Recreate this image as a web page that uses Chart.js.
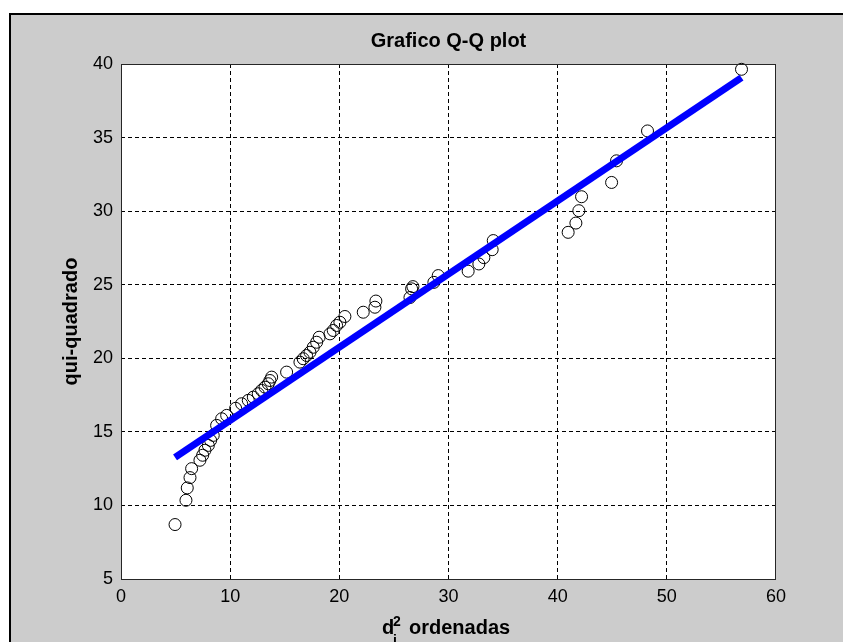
<!DOCTYPE html>
<html>
<head>
<meta charset="utf-8">
<script src="https://cdn.jsdelivr.net/npm/chart.js@4/dist/chart.umd.min.js"></script>
<style>
  html, body { margin: 0; padding: 0; background: #ffffff; }
  canvas { display: block; }
</style>
</head>
<body>
<canvas id="qqChart" width="843" height="642"></canvas>
<script>
// d^2 ordered (x) vs chi-square quantiles (y)
var dQuadrado = [4.95, 5.95, 6.07, 6.32, 6.47, 7.23, 7.48, 7.69, 8.00, 8.21,
  8.45, 8.76, 9.22, 9.68, 10.5, 11.05, 11.66, 12.12, 12.57, 12.88,
  13.19, 13.49, 13.64, 13.80, 15.17, 16.39, 16.69, 17.00, 17.31, 17.61,
  17.92, 18.15, 19.14, 19.44, 19.75, 20.05, 20.51, 22.19, 23.26, 23.35,
  26.47, 26.62, 26.74, 28.66, 29.06, 31.80, 32.78, 33.24, 34.0, 34.1,
  40.96, 41.67, 41.94, 42.19, 44.94, 45.39, 48.23, 56.84];
var quiQuadrado = [8.70, 10.35, 11.19, 11.89, 12.50, 13.07, 13.41, 13.75, 14.08, 14.42,
  14.76, 15.44, 15.89, 16.12, 16.6, 16.91, 17.14, 17.36, 17.59, 17.82,
  18.04, 18.27, 18.49, 18.72, 19.06, 19.74, 19.97, 20.19, 20.41, 20.75,
  21.09, 21.43, 21.66, 21.89, 22.23, 22.45, 22.84, 23.13, 23.47, 23.89,
  24.13, 24.72, 24.87, 25.16, 25.62, 25.92, 26.41, 26.84, 27.38, 28.0,
  28.56, 29.19, 30.03, 30.98, 31.95, 33.42, 35.45, 39.64];

// fitted line ends
var retaX = [4.95, 56.84];
var retaY = [13.27, 39.07];

var xTicks = [0, 10, 20, 30, 40, 50, 60];
var yTicks = [5, 10, 15, 20, 25, 30, 35, 40];

var titulo = 'Grafico Q-Q plot';
var tituloY = 'qui-quadrado';

var pontos = dQuadrado.map(function (d, i) { return { x: d, y: quiQuadrado[i] }; });
var reta = retaX.map(function (d, i) { return { x: d, y: retaY[i] }; });

// figure background, axes box and the text labels
var moldura = {
  id: 'moldura',
  beforeDraw: function (chart) {
    var ctx = chart.ctx;
    var a = chart.chartArea;
    ctx.save();
    ctx.fillStyle = '#ffffff';
    ctx.fillRect(0, 0, chart.width, chart.height);
    ctx.fillStyle = '#cccccc';
    ctx.fillRect(10, 14, chart.width - 10, chart.height - 14);
    ctx.strokeStyle = '#000000';
    ctx.lineWidth = 2;
    ctx.beginPath();
    ctx.moveTo(10, chart.height);
    ctx.lineTo(10, 14);
    ctx.lineTo(chart.width, 14);
    ctx.stroke();
    ctx.fillStyle = '#ffffff';
    ctx.fillRect(a.left, a.top, a.right - a.left, a.bottom - a.top);
    ctx.restore();
  },
  afterDatasetsDraw: function (chart) {
    var ctx = chart.ctx;
    var a = chart.chartArea;
    ctx.save();
    ctx.strokeStyle = '#262626';
    ctx.lineWidth = 1;
    ctx.strokeRect(a.left + 0.5, a.top + 0.5, a.right - a.left - 1, a.bottom - a.top);

    ctx.fillStyle = '#000000';
    ctx.textAlign = 'center';
    ctx.textBaseline = 'middle';
    ctx.font = 'bold 20px "Liberation Sans", Arial, sans-serif';
    ctx.fillText(titulo, (a.left + a.right) / 2, 41);

    ctx.save();
    ctx.translate(71, (a.top + a.bottom) / 2);
    ctx.rotate(-Math.PI / 2);
    ctx.fillText(tituloY, 0, 0);
    ctx.restore();

    // x label: d_i^2 ordenadas
    ctx.textAlign = 'left';
    ctx.textBaseline = 'alphabetic';
    ctx.font = 'bold 20px "Liberation Sans", Arial, sans-serif';
    ctx.fillText('d', 382, 634);
    ctx.font = 'bold 14px "Liberation Sans", Arial, sans-serif';
    ctx.fillText('2', 393, 626);
    ctx.fillText('i', 393, 645);
    ctx.font = 'bold 20px "Liberation Sans", Arial, sans-serif';
    ctx.fillText('ordenadas', 409, 634);
    ctx.restore();
  }
};

var ctx = document.getElementById('qqChart').getContext('2d');

var qqChart = new Chart(ctx, {
  type: 'scatter',
  data: {
    datasets: [
      {
        type: 'line',
        label: 'reta',
        data: reta,
        borderColor: '#0000ff',
        borderWidth: 7,
        pointRadius: 0,
        fill: false,
        order: 0,
        clip: false
      },
      {
        label: 'pontos',
        data: pontos,
        pointStyle: 'circle',
        pointRadius: 6,
        pointHoverRadius: 6,
        borderColor: '#000000',
        borderWidth: 1,
        backgroundColor: 'rgba(0,0,0,0)',
        order: 1,
        clip: false
      }
    ]
  },
  options: {
    responsive: false,
    animation: false,
    devicePixelRatio: 1,
    layout: {
      padding: { top: 64, right: 67, left: 81, bottom: 33 }
    },
    plugins: {
      legend: { display: false },
      tooltip: { enabled: false },
      title: { display: false }
    },
    scales: {
      x: {
        type: 'linear',
        min: 0,
        max: 60,
        afterFit: function (scale) { scale.height = 30; },
        afterBuildTicks: function (scale) {
          scale.ticks = xTicks.map(function (v) { return { value: v }; });
        },
        ticks: {
          color: '#000000',
          padding: 7,
          maxRotation: 0,
          font: { family: '"Liberation Sans", Arial, sans-serif', size: 18 }
        },
        grid: {
          color: function (c) {
            return (c.tick && (c.tick.value === 0 || c.tick.value === 60)) ? 'rgba(0,0,0,0)' : '#000000';
          },
          lineWidth: 1,
          drawTicks: false
        },
        border: { display: false, dash: [4, 3] }
      },
      y: {
        type: 'linear',
        min: 5,
        max: 40,
        afterFit: function (scale) { scale.width = 40; },
        afterBuildTicks: function (scale) {
          scale.ticks = yTicks.map(function (v) { return { value: v }; });
        },
        ticks: {
          color: '#000000',
          padding: 8,
          font: { family: '"Liberation Sans", Arial, sans-serif', size: 18 }
        },
        grid: {
          color: function (c) {
            return (c.tick && (c.tick.value === 5 || c.tick.value === 40)) ? 'rgba(0,0,0,0)' : '#000000';
          },
          lineWidth: 1,
          drawTicks: false
        },
        border: { display: false, dash: [4, 3] }
      }
    }
  },
  plugins: [moldura]
});
</script>
</body>
</html>
